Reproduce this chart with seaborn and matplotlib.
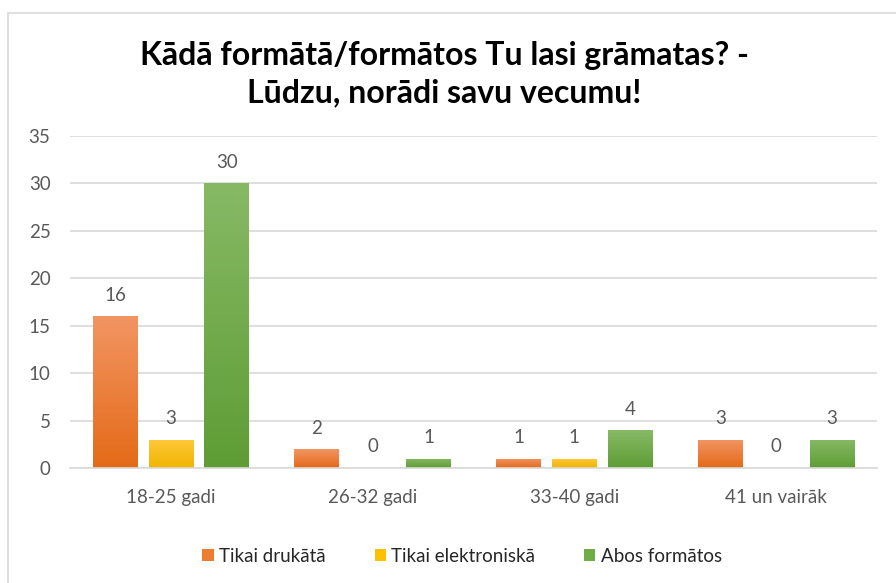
import matplotlib
matplotlib.use("Agg")
import matplotlib.pyplot as plt
import matplotlib.colors as mcolors
from matplotlib.patches import Rectangle
import numpy as np
import pandas as pd
import seaborn as sns

categories = ["18-25 gadi", "26-32 gadi", "33-40 gadi", "41 un vairāk"]
series_names = ["Tikai drukātā", "Tikai elektroniskā", "Abos formātos"]
drukata = [16, 2, 1, 3]
elektroniska = [3, 0, 1, 0]
abos = [30, 1, 4, 3]
yticks = [0, 5, 10, 15, 20, 25, 30, 35]
title = "Kādā formātā/formātos Tu lasi grāmatas? -\nLūdzu, norādi savu vecumu!"

base_colors = ["#ED7D31", "#FFC000", "#70AD47"]
grad = {
    "#ED7D31": ("#F29563", "#E46A18"),
    "#FFC000": ("#FFC83A", "#F0B400"),
    "#70AD47": ("#87B965", "#5E9D35"),
}

df = pd.DataFrame({
    "cat": categories * 3,
    "series": [s for s in series_names for _ in categories],
    "value": drukata + elektroniska + abos,
})

sns.set_theme(style="white")
plt.rcParams["font.family"] = ["Lato", "DejaVu Sans"]

fig = plt.figure(figsize=(8.96, 5.83), dpi=100)
ax = fig.add_axes([70 / 896, 1 - 468 / 583, 807 / 896, 332 / 583])

sns.barplot(data=df, x="cat", y="value", hue="series", hue_order=series_names,
            order=categories, palette=base_colors, width=0.83, gap=0.2,
            ax=ax, legend=True, linewidth=0, saturation=1)

ax.set_ylim(0, 35)
ax.set_yticks(yticks)
ax.set_xlim(-0.5, 3.5)
ax.grid(axis="y", color="#D9D9D9", linewidth=1.2)
ax.set_axisbelow(True)
for s in ["top", "right", "left"]:
    ax.spines[s].set_visible(False)
ax.spines["bottom"].set_color("#D9D9D9")
ax.spines["bottom"].set_linewidth(1.2)
ax.tick_params(axis="both", length=0, labelsize=13.5, labelcolor="#595959")
ax.tick_params(axis="x", pad=15)
ax.tick_params(axis="y", pad=14)
ax.set_xlabel("")
ax.set_ylabel("")

# gradient fill for bars
for container, col in zip(ax.containers, base_colors):
    top, bot = grad[col]
    cmap = mcolors.LinearSegmentedColormap.from_list("g", [bot, top])
    for bar in container:
        x0, w, h = bar.get_x(), bar.get_width(), bar.get_height()
        if h <= 0:
            continue
        bar.set_facecolor("none")
        im = ax.imshow(np.linspace(0, 1, 100).reshape(-1, 1), cmap=cmap,
                       extent=[x0, x0 + w, 0, h], origin="lower",
                       aspect="auto", zorder=bar.get_zorder())
        im.set_clip_path(bar)
    ax.bar_label(container, labels=[str(int(v)) for v in container.datavalues],
                 padding=9, fontsize=13.5, color="#595959")
ax.set_xlim(-0.5, 3.5)
ax.set_ylim(0, 35)
ax.set_aspect("auto")

handles, labels = ax.get_legend_handles_labels()
ax.legend(handles, labels, loc="upper center", bbox_to_anchor=(0.486, -0.19),
          ncol=3, frameon=False, fontsize=13.5, handlelength=0.6, handleheight=0.6,
          columnspacing=2.6, handletextpad=0.3, labelcolor="#262626")

fig.text(444 / 896, 1 - 74 / 583, title, ha="center", va="center",
         fontsize=23, fontweight="bold", color="black", linespacing=1.35)

fig.patches.append(Rectangle((8 / 896, -0.05), 1.1, 1 - 13 / 583 + 0.05,
                             transform=fig.transFigure, fill=False,
                             edgecolor="#D9D9D9", linewidth=1.2))

fig.savefig("out.png", dpi=100)
